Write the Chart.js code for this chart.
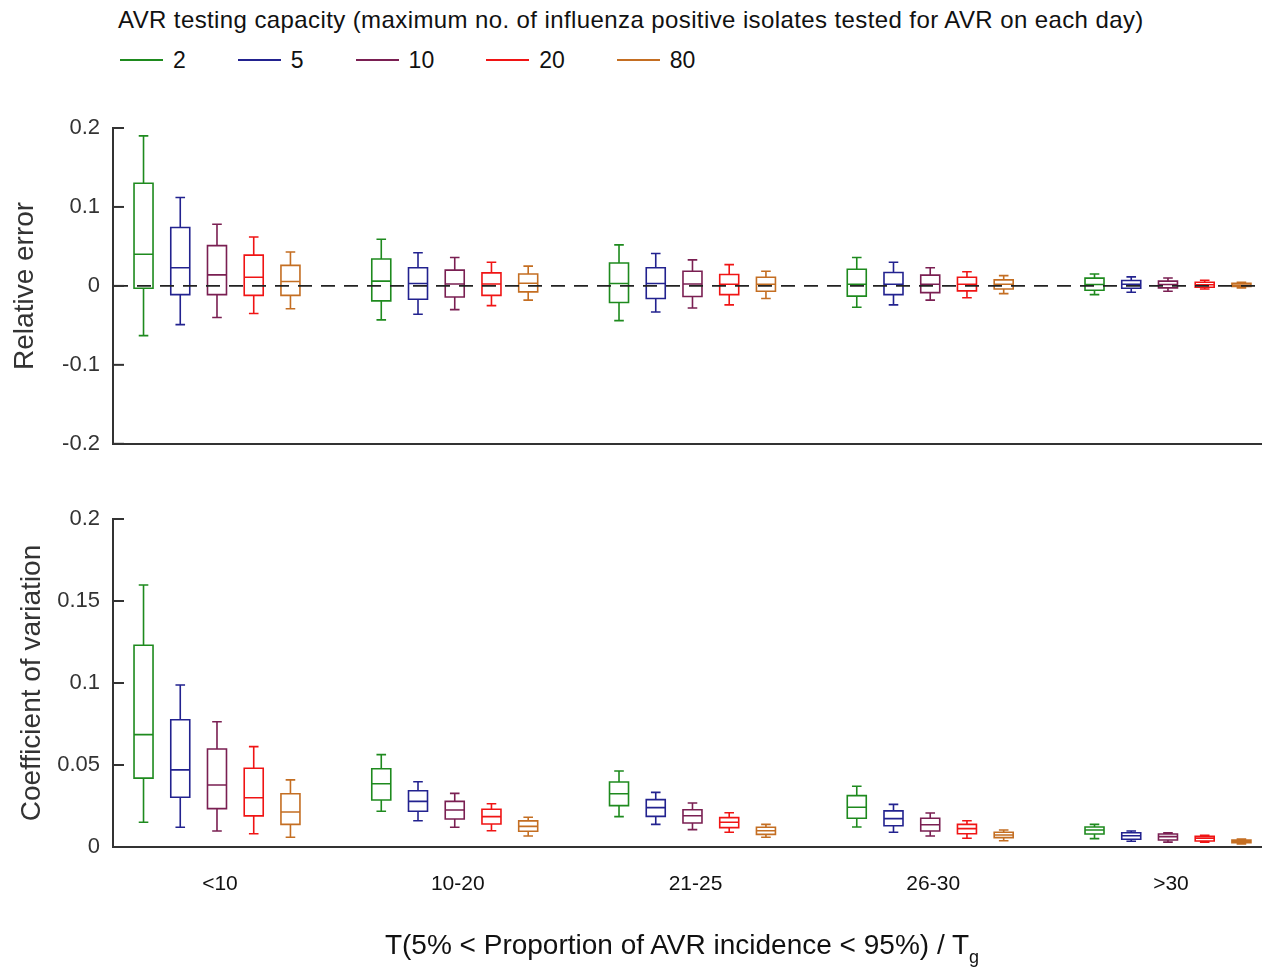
<!DOCTYPE html>
<html><head><meta charset="utf-8">
<script src="https://cdn.jsdelivr.net/npm/chart.js@4/dist/chart.umd.min.js"></script>
<style>
html,body{margin:0;padding:0;background:#fff;}
body{width:1262px;height:970px;position:relative;overflow:hidden;font-family:"Liberation Sans",Arial,sans-serif;}
#legend{position:absolute;left:118px;top:6px;color:#111;}
#legTitle{font-size:24px;letter-spacing:0.4px;line-height:28px;white-space:nowrap;}
#legItems{display:flex;margin-top:12px;margin-left:2px;gap:52px;align-items:center;}
.li{display:flex;align-items:center;font-size:23px;line-height:28px;}
.ln{width:43px;height:2px;margin-right:10px;}
.wrap{position:absolute;left:0;width:1262px;}
#xtitle{position:absolute;top:929px;left:0;width:1364px;text-align:center;font-size:28px;color:#111;white-space:nowrap;}
#xtitle sub{font-size:18px;vertical-align:-9px;}
</style></head>
<body>
<div id="legend"><div id="legTitle"></div><div id="legItems"></div></div>
<div class="wrap" style="top:460px;height:510px"><canvas id="c2" width="1262" height="510"></canvas></div>
<div class="wrap" style="top:0;height:470px"><canvas id="c1" width="1262" height="470"></canvas></div>
<div id="xtitle">T(5% &lt; Proportion of AVR incidence &lt; 95%) / T<sub>g</sub></div>
<script>
// ---- data ----
const categories = ['<10', '10-20', '21-25', '26-30', '>30'];
const seriesNames = ['2', '5', '10', '20', '80'];
const seriesColors = ['#1e8a1e', '#22228f', '#7a1f52', '#f01414', '#c46e22'];
const legendTitle = 'AVR testing capacity (maximum no. of influenza positive isolates tested for AVR on each day)';
// each entry: [lower whisker, Q1, median, Q3, upper whisker]
const relErr2  = [[-0.063,-0.003,0.040,0.130,0.190],[-0.043,-0.019,0.006,0.034,0.059],[-0.044,-0.021,0.003,0.029,0.052],[-0.027,-0.013,0.002,0.021,0.036],[-0.011,-0.0055,0.0017,0.0098,0.015]];
const relErr5  = [[-0.049,-0.011,0.023,0.074,0.112],[-0.036,-0.017,0.003,0.023,0.042],[-0.033,-0.016,0.003,0.023,0.041],[-0.024,-0.011,0.002,0.017,0.030],[-0.008,-0.003,0.002,0.0068,0.0114]];
const relErr10 = [[-0.040,-0.011,0.014,0.051,0.078],[-0.030,-0.014,0.0025,0.020,0.036],[-0.028,-0.0135,0.0025,0.0186,0.033],[-0.018,-0.0085,0.002,0.0136,0.023],[-0.0068,-0.0025,0.0017,0.006,0.010]];
const relErr20 = [[-0.035,-0.012,0.011,0.039,0.062],[-0.025,-0.012,0.0025,0.0165,0.030],[-0.024,-0.011,0.002,0.0144,0.027],[-0.015,-0.0063,0.002,0.011,0.018],[-0.004,-0.0017,0.0015,0.0047,0.0072]];
const relErr80 = [[-0.029,-0.012,0.0055,0.026,0.043],[-0.018,-0.0076,0.0034,0.015,0.025],[-0.016,-0.0068,0.002,0.011,0.0186],[-0.0098,-0.004,0.002,0.0076,0.013],[-0.0025,-0.0008,0.001,0.0034,0.0047]];
const cv2  = [[0.0151,0.042,0.0685,0.123,0.1598],[0.0218,0.0287,0.0386,0.0477,0.0563],[0.0185,0.0252,0.0325,0.0396,0.0463],[0.0122,0.0175,0.0242,0.0313,0.037],[0.0051,0.0079,0.0104,0.0122,0.0138]];
const cv5  = [[0.012,0.0303,0.047,0.0776,0.0988],[0.016,0.0218,0.0278,0.0343,0.0398],[0.0138,0.0187,0.024,0.0289,0.0333],[0.009,0.013,0.0173,0.022,0.026],[0.0035,0.0047,0.0069,0.0087,0.0098]];
const cv10 = [[0.0098,0.0234,0.0378,0.0598,0.0764],[0.012,0.0171,0.0226,0.0278,0.0327],[0.0106,0.0146,0.0191,0.0227,0.0268],[0.0067,0.0098,0.0136,0.0175,0.0207],[0.003,0.0043,0.0063,0.0079,0.0087]];
const cv20 = [[0.0081,0.019,0.030,0.048,0.0612],[0.0099,0.014,0.0185,0.023,0.0264],[0.009,0.0118,0.0151,0.0179,0.0209],[0.0053,0.0081,0.0112,0.0138,0.016],[0.0029,0.0037,0.0053,0.0065,0.0071]];
const cv80 = [[0.0059,0.0138,0.0213,0.0325,0.0409],[0.0067,0.0096,0.0126,0.0159,0.0181],[0.0059,0.0077,0.0099,0.012,0.0138],[0.0038,0.0057,0.0073,0.009,0.0104],[0.0018,0.0026,0.0035,0.0043,0.0049]];
const relErrTicks = [-0.2, -0.1, 0, 0.1, 0.2];
const cvTicks = [0, 0.05, 0.1, 0.15, 0.2];
const zeroLine = 0;

// ---- layout/style ----
const seriesOffset = [-0.3090, -0.1545, 0, 0.1545, 0.3090];
const xMin = 0.5626, xMax = 5.3955;
const AX = '#333';
const FONT = '"Liberation Sans", Arial, sans-serif';

// legend (HTML)
document.getElementById('legTitle').textContent = legendTitle;
const li = document.getElementById('legItems');
seriesNames.forEach((n, i) => {
  const d = document.createElement('div'); d.className = 'li';
  const l = document.createElement('span'); l.className = 'ln'; l.style.background = seriesColors[i];
  const t = document.createElement('span'); t.textContent = n;
  d.appendChild(l); d.appendChild(t); li.appendChild(d);
});

const boxPlugin = {
  id: 'boxes',
  beforeDatasetsDraw(chart) {
    const {ctx, scales: {x, y}} = chart;
    ctx.save();
    ctx.lineWidth = 1.6;
    chart.data.datasets.forEach((ds, s) => {
      if (!ds.stats) return;
      ctx.strokeStyle = ds.borderColor;
      ds.stats.forEach((st, g) => {
        const [lo, q1, md, q3, hi] = st.map(v => y.getPixelForValue(v));
        const xc = x.getPixelForValue(g + 1 + seriesOffset[s]);
        const hw = 9.5, cw = 4.8;
        ctx.beginPath();
        ctx.rect(xc - hw, q3, 2 * hw, q1 - q3);
        ctx.moveTo(xc - hw, md); ctx.lineTo(xc + hw, md);
        ctx.moveTo(xc, q3); ctx.lineTo(xc, hi);
        ctx.moveTo(xc, q1); ctx.lineTo(xc, lo);
        ctx.moveTo(xc - cw, hi); ctx.lineTo(xc + cw, hi);
        ctx.moveTo(xc - cw, lo); ctx.lineTo(xc + cw, lo);
        ctx.stroke();
      });
    });
    ctx.restore();
  },
  afterDatasetsDraw(chart, args, opts) {
    const {ctx, chartArea, scales: {y}} = chart;
    if (opts.zero) {
      const py = y.getPixelForValue(zeroLine);
      ctx.save();
      ctx.strokeStyle = '#222'; ctx.lineWidth = 1.6; ctx.setLineDash([14, 9]);
      ctx.beginPath(); ctx.moveTo(chartArea.left + 1, py); ctx.lineTo(chartArea.right, py); ctx.stroke();
      ctx.restore();
    }
    // inward tick marks
    ctx.save();
    ctx.strokeStyle = AX; ctx.lineWidth = 2;
    y.ticks.forEach(t => {
      const py = y.getPixelForValue(t.value);
      ctx.beginPath(); ctx.moveTo(chartArea.left, py); ctx.lineTo(chartArea.left + 11, py); ctx.stroke();
    });
    ctx.restore();
  }
};

function makeDatasets(arrs) {
  return arrs.map((a, s) => ({
    label: seriesNames[s],
    borderColor: seriesColors[s],
    backgroundColor: seriesColors[s],
    pointRadius: 0,
    stats: a,
    data: a.map((st, g) => ({x: g + 1 + seriesOffset[s], y: st[2]}))
  }));
}

function makeChart(id, arrs, yTicks, yTitle, titlePad, padTop, xH, showX, zero) {
  return new Chart(document.getElementById(id), {
    type: 'scatter',
    data: {datasets: makeDatasets(arrs)},
    plugins: [boxPlugin],
    options: {
      responsive: false, animation: false,
      layout: {padding: {top: padTop, left: 0, right: 0, bottom: 0}},
      plugins: {legend: {display: false}, tooltip: {enabled: false}, boxes: {zero: zero}},
      scales: {
        x: {
          type: 'linear', min: xMin, max: xMax,
          grid: {display: false, drawTicks: false},
          border: {color: AX, width: 2},
          afterBuildTicks: s => { s.ticks = categories.map((c, i) => ({value: i + 1})); },
          ticks: {display: showX, padding: 25, labelOffset: 3, color: '#111', font: {family: FONT, size: 21},
                  callback: v => categories[Math.round(v) - 1]},
          afterFit: s => { s.height = xH; }
        },
        y: {
          min: yTicks[0], max: yTicks[yTicks.length - 1],
          afterBuildTicks: s => { s.ticks = yTicks.map(v => ({value: v})); },
          grid: {display: false, drawTicks: false},
          border: {color: AX, width: 2},
          ticks: {padding: 13, color: '#333', font: {family: FONT, size: 22},
                  callback: v => String(parseFloat(Number(v).toFixed(4)))},
          title: {display: true, text: yTitle, color: '#333', font: {family: FONT, size: 28}, padding: {top: titlePad, bottom: 0}},
          afterFit: s => { s.width = 113; }
        }
      }
    }
  });
}

makeChart('c1', [relErr2, relErr5, relErr10, relErr20, relErr80], relErrTicks, 'Relative error', 8, 128, 7, false, true);
makeChart('c2', [cv2, cv5, cv10, cv20, cv80], cvTicks, 'Coefficient of variation', 15, 59, 123, true, false);
</script>
</body></html>
